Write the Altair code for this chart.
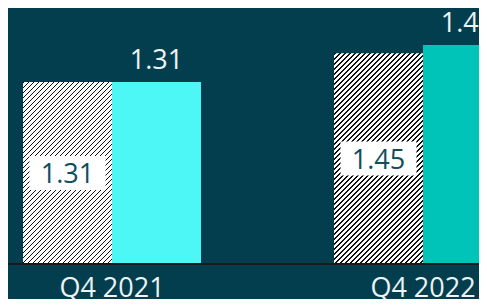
import altair as alt
import pandas as pd

# ---- data ----
quarters = ["Q4 2021", "Q4 2022"]
hatched_values = [1.31, 1.45]
solid_values = [1.31, 1.49]
solid_colors = ["#4cf7f5", "#00c4b8"]

# ---- style / layout constants ----
BG = "#033e4f"
Y_MIN, Y_MAX = 0.425, 1.67
PLOT_W, PLOT_H = 471, 256
X_RANGE = [15, 504]
FONT = "Open Sans"
FS = 27
FW = 400

rows = []
for q, h, s in zip(quarters, hatched_values, solid_values):
    rows.append({"quarter": q, "series": "hatched", "value": h})
    rows.append({"quarter": q, "series": "solid", "value": s})
df = pd.DataFrame(rows)


def hatch_gradient(value, bar_w=89.0, period=5.0, black=1.8):
    """Diagonal '/' stripes at 45 degrees for a bar of the given value."""
    h = (value - Y_MIN) / (Y_MAX - Y_MIN) * PLOT_H
    w = bar_w
    L = w + h
    k = L / (w * w + h * h)
    stops = []
    pos = 0.0
    while pos < L:
        a, b = pos / L, min(pos + black, L) / L
        stops += [
            {"offset": a, "color": "#ffffff"},
            {"offset": a, "color": "#111111"},
            {"offset": b, "color": "#111111"},
            {"offset": b, "color": "#ffffff"},
        ]
        pos += period
    return {"gradient": "linear", "x1": 0, "y1": 0, "x2": k * w, "y2": k * h,
            "stops": stops}


x_enc = alt.X("quarter:N", sort=quarters,
              scale=alt.Scale(domain=quarters, range=X_RANGE,
                              paddingInner=0.4277, paddingOuter=0),
              axis=alt.Axis(title=None, labelAngle=0, ticks=False, domain=False,
                            labelFontSize=FS, labelFont=FONT, labelFontWeight=FW,
                            labelColor="#eef3f4", labelBaseline="alphabetic",
                            labelPadding=32, grid=False))
xo_enc = alt.XOffset("series:N", sort=["hatched", "solid"],
                     scale=alt.Scale(domain=["hatched", "solid"]))
y_scale = alt.Scale(domain=[Y_MIN, Y_MAX], zero=False, nice=False)
y_enc = alt.Y("value:Q", scale=y_scale, axis=None)

base = alt.Chart(df).encode(x=x_enc, xOffset=xo_enc)

hatched_layers = []
for q, v in zip(quarters, hatched_values):
    hatched_layers.append(
        base.transform_filter(
            (alt.datum.series == "hatched") & (alt.datum.quarter == q)
        ).mark_bar(fill=hatch_gradient(v), strokeWidth=0).encode(
            y=y_enc, y2=alt.datum(Y_MIN)
        )
    )

solid = base.transform_filter(alt.datum.series == "solid").mark_bar(strokeWidth=0).encode(
    y=y_enc, y2=alt.datum(Y_MIN),
    color=alt.Color("quarter:N", scale=alt.Scale(domain=quarters, range=solid_colors),
                    legend=None),
)

top_labels = base.transform_filter(alt.datum.series == "solid").mark_text(
    font=FONT, fontSize=FS, fontWeight=FW, color="#eef3f4",
    baseline="alphabetic", dy=-13
).encode(y=y_enc, text=alt.Text("value:Q", format=".2f"))

mid = base.transform_filter(alt.datum.series == "hatched").transform_calculate(
    mid=f"(datum.value + {Y_MIN}) / 2"
)

# white label box: 76 x 34 px
boxes = mid.mark_point(
    shape="M-1,-0.4474L1,-0.4474L1,0.4474L-1,0.4474Z",
    size=5776, filled=True, fill="#ffffff", opacity=1, strokeWidth=0, dy=-2.5
).encode(y=alt.Y("mid:Q", scale=y_scale, axis=None))

inside_labels = mid.mark_text(
    font=FONT, fontSize=FS, fontWeight=FW, color="#0f4e60",
    baseline="alphabetic", dy=10
).encode(y=alt.Y("mid:Q", scale=y_scale, axis=None),
         text=alt.Text("value:Q", format=".2f"))

baseline = alt.Chart(df).mark_rule(color="#1a1a1a", strokeWidth=1.5).encode(
    y=alt.datum(Y_MIN), x=alt.value(0), x2=alt.value(PLOT_W)
)

chart = alt.layer(
    *hatched_layers, solid, top_labels, boxes, inside_labels, baseline
).properties(
    width=PLOT_W, height=PLOT_H,
    autosize=alt.AutoSizeParams(type="none"),
    padding={"left": 0, "top": 0, "right": 0, "bottom": 35},
    background=BG,
).configure_view(stroke=None)

chart.save("out.html", embed_options={"renderer": "svg", "actions": False})
